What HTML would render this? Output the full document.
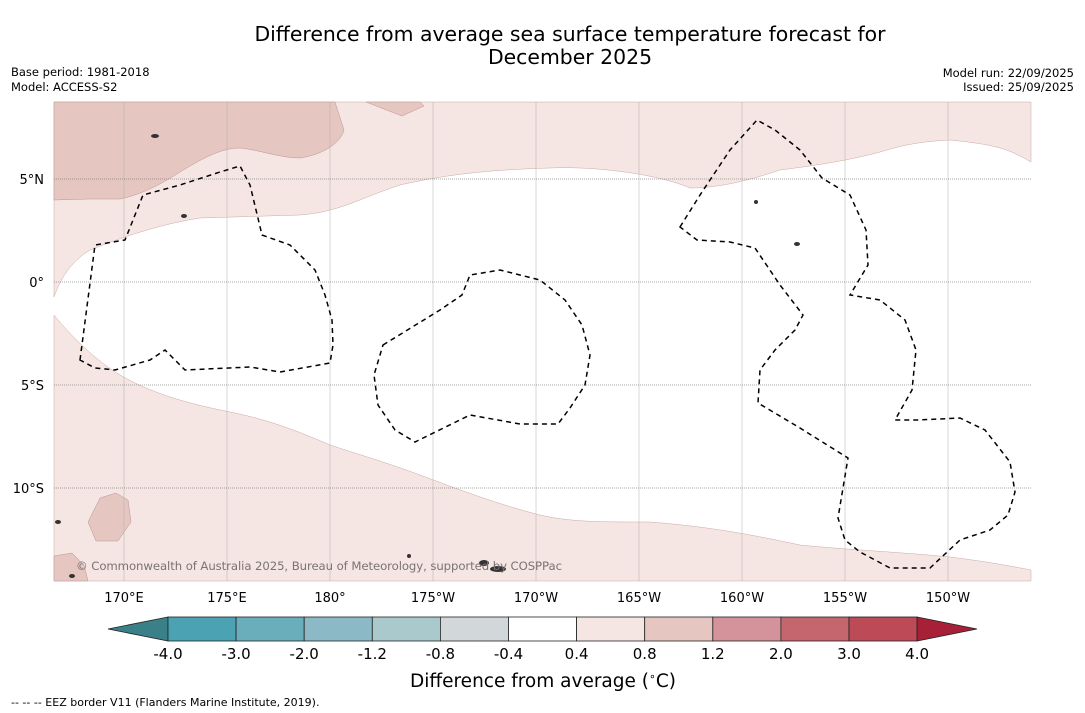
<!DOCTYPE html>
<html><head><meta charset="utf-8"><style>
body{margin:0;background:#fff;font-family:"Liberation Sans","DejaVu Sans",sans-serif;}
#wrap{position:relative;width:1085px;height:713px;overflow:hidden;background:#fff}
</style></head><body>
<div id="wrap">
<svg id="svg" width="1085" height="713" xmlns="http://www.w3.org/2000/svg" font-family="DejaVu Sans, Liberation Sans, sans-serif">
<text x="570" y="41" font-size="20.4" text-anchor="middle">Difference from average sea surface temperature forecast for</text>
<text x="570" y="64" font-size="20.4" text-anchor="middle">December 2025</text>
<text x="11" y="76" font-size="11.5">Base period: 1981-2018</text>
<text x="11" y="91" font-size="11.5">Model: ACCESS-S2</text>
<text x="1074" y="77" font-size="11.5" text-anchor="end">Model run: 22/09/2025</text>
<text x="1074" y="91" font-size="11.5" text-anchor="end">Issued: 25/09/2025</text>
<g id="map">
<rect x="54" y="102" width="977" height="479" fill="#fff"/>
<path fill="#f5e6e4" stroke="#c9a9a5" stroke-width="0.5" d="M54,102 L1031,102 L1031,162 C1010,150 1000,145 950,140 C910,142 895,148 880,152 C850,160 820,165 780,170 C750,180 720,188 690,188 C660,175 600,166 550,168 C480,170 440,176 400,185 C360,198 340,212 300,215 L200,218 C160,224 120,238 90,250 C70,262 60,280 54,297 Z"/>
<path fill="#e6c6c1" stroke="#b99590" stroke-width="0.5" d="M54,102 L335,102 L344,130 C340,145 320,155 300,158 C280,158 260,150 240,148 C220,148 200,160 180,172 C160,185 140,195 120,199 L90,199 L54,200 Z"/>
<path fill="#e6c6c1" stroke="#b99590" stroke-width="0.5" d="M366,102 L420,102 L424,106 L402,116 Z"/>
<path fill="#f5e6e4" stroke="#c9a9a5" stroke-width="0.5" d="M54,315 C70,335 95,360 120,375 C150,392 180,402 230,412 C270,420 300,432 330,445 C360,455 385,462 420,475 C460,490 500,505 540,515 C570,522 600,522 650,522 C700,526 740,532 800,545 C850,550 900,552 950,557 C990,562 1010,566 1031,570 L1031,581 L54,581 Z"/>
<path fill="#e6c6c1" stroke="#b99590" stroke-width="0.5" d="M88,522 L100,498 L116,493 L128,500 L131,522 L118,541 L96,541 Z"/>
<path fill="#e6c6c1" stroke="#b99590" stroke-width="0.5" d="M54,556 L72,553 L84,565 L88,581 L54,581 Z"/>
<g id="grid"></g>
<g fill="none" stroke="#000" stroke-width="1.5" stroke-dasharray="5,4">
<path d="M80,360 L95,245 L125,240 L143,195 L180,185 L220,172 L240,166 L250,185 L262,235 L290,245 L315,270 L325,295 L332,320 L333,345 L330,363 L280,372 L250,367 L185,370 L165,350 L150,360 L115,370 L95,368 Z"/>
<path d="M383,345 L440,310 L462,295 L470,275 L500,270 L540,280 L565,300 L582,325 L590,355 L585,385 L570,408 L558,424 L520,424 L470,415 L415,442 L395,430 L378,405 L374,375 Z"/>
<path d="M680,227 L700,195 L730,150 L757,120 L775,130 L800,150 L822,178 L850,195 L866,230 L868,265 L850,295 L880,300 L905,320 L916,350 L912,390 L895,420 L918,420 L960,418 L985,430 L1010,462 L1015,492 L1008,515 L990,530 L960,540 L930,568 L890,568 L860,552 L845,540 L838,518 L848,458 L800,428 L758,403 L760,370 L775,350 L795,330 L803,315 L780,285 L755,248 L730,242 L697,240 Z"/>
</g>
<g fill="#333">
<ellipse cx="498" cy="569" rx="8" ry="3"/><ellipse cx="484" cy="563" rx="5" ry="3"/><ellipse cx="72" cy="576" rx="3" ry="2"/><ellipse cx="58" cy="522" rx="3" ry="2"/><ellipse cx="184" cy="216" rx="3" ry="2"/><ellipse cx="155" cy="136" rx="4" ry="2"/><ellipse cx="797" cy="244" rx="3" ry="2"/><ellipse cx="756" cy="202" rx="2" ry="2"/><ellipse cx="409" cy="556" rx="2" ry="2"/>
</g>
<text x="76" y="570" font-size="11.7" fill="#7a7372" textLength="486">© Commonwealth of Australia 2025, Bureau of Meteorology, supported by COSPPac</text>
</g>
<g id="axes"></g>
<g id="cbar"></g>
<text x="543" y="687" font-size="18.5" text-anchor="middle">Difference from average (<tspan font-size="11" dy="-7">∘</tspan><tspan dy="7">C)</tspan></text>
<text x="11" y="706" font-size="11">--  --  -- EEZ border V11 (Flanders Marine Institute, 2019).</text>
</svg>
</div>
<script>
const lonLabels=["170°E","175°E","180°","175°W","170°W","165°W","160°W","155°W","150°W"];
const lonValues=[170,175,180,185,190,195,200,205,210];
const latLabels=["5°N","0°","5°S","10°S"];
const latValues=[5,0,-5,-10];
const cbBounds=["-4.0","-3.0","-2.0","-1.2","-0.8","-0.4","0.4","0.8","1.2","2.0","3.0","4.0"];
const cbColors=["#4aa2b2","#6aaebb","#8bb9c5","#a9c9cd","#d2d8da","#ffffff","#f5e6e4","#e6c6c1","#d4939a","#c5666f","#bc4a57"];
const NS="http://www.w3.org/2000/svg";
const xLon=v=>124+(v-170)*20.6;
const yLat=v=>282-v*20.6;
function mk(t,a,p){const e=document.createElementNS(NS,t);for(const k in a)e.setAttribute(k,a[k]);p.appendChild(e);return e;}
const grid=document.getElementById('grid'),axes=document.getElementById('axes'),cb=document.getElementById('cbar');
lonValues.forEach((v,i)=>{const x=xLon(v);
 const l=mk('line',{x1:x,x2:x,y1:102,y2:581,stroke:'#b0b0b0','stroke-width':0.5},grid);
 
 
 const t=mk('text',{x:x,y:602,'font-size':13,'text-anchor':'middle'},axes);t.textContent=lonLabels[i];
 
 });
latValues.forEach((v,i)=>{const y=yLat(v);
 const l=mk('line',{x1:54,x2:1031,y1:y,y2:y,stroke:'#555','stroke-width':0.6,'stroke-dasharray':'1,1'},grid);
 
 
 const t=mk('text',{x:44,y:y+5,'font-size':13,'text-anchor':'end'},axes);t.textContent=latLabels[i];
 
 });
const x0=168,w=68.1,y0=617,h=24;
const tl=mk('path',{d:`M${x0},${y0} L108,${y0+h/2} L${x0},${y0+h} Z`,fill:'#3a8088',stroke:'#222','stroke-width':0.8},cb);


cbColors.forEach((c,i)=>{const r=mk('rect',{x:x0+i*w,y:y0,width:w,height:h,fill:c,stroke:'#222','stroke-width':0.8},cb);
 
 });
const xe=x0+cbColors.length*w;
const tr=mk('path',{d:`M${xe},${y0} L977,${y0+h/2} L${xe},${y0+h} Z`,fill:'#a82038',stroke:'#222','stroke-width':0.8},cb);


cbBounds.forEach((s,i)=>{const t=mk('text',{x:x0+i*w,y:659,'font-size':15,'text-anchor':'middle'},cb);t.textContent=s;
 
 });
</script>
</body></html>
